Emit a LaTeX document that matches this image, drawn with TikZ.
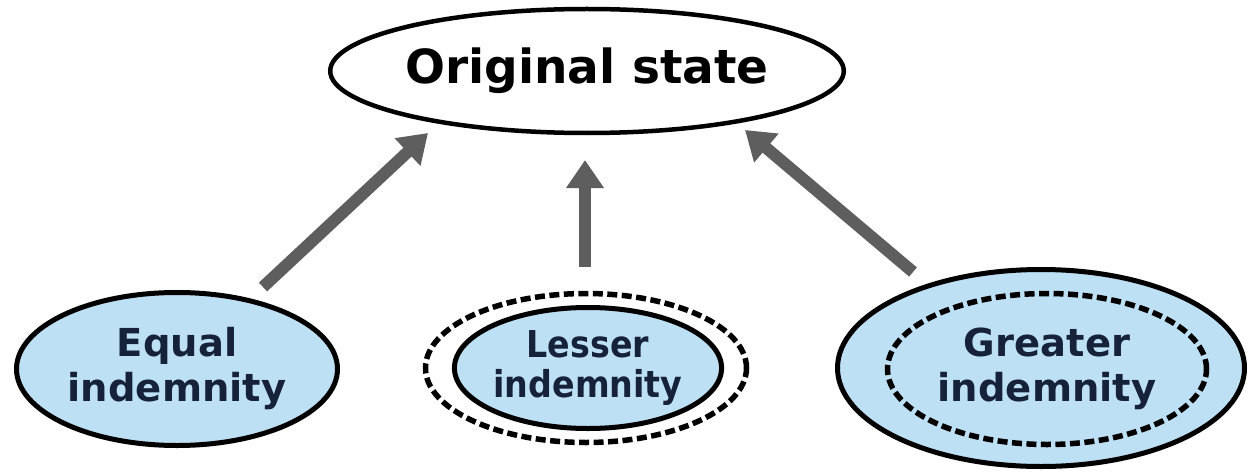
\documentclass[tikz,border=0pt]{standalone}
\usepackage{fontspec}
\setmainfont{DejaVu Sans}
\newfontfamily\heavy{DejaVu Sans}
\newfontfamily\cond{DejaVu Sans Condensed}
\usetikzlibrary{arrows.meta,shapes.geometric}
\definecolor{fillblue}{HTML}{BEE0F4}
\definecolor{navy}{HTML}{15223A}
\definecolor{arrowgray}{HTML}{5E5E5E}
\tikzset{
  oval/.style={ellipse, draw=black, line width=5pt, inner sep=0pt},
  dashedoval/.style={ellipse, draw=black, line width=5.5pt, inner sep=0pt, dash pattern=on 10pt off 4.5pt},
  boldlbl/.style={text=navy, align=center, font=\heavy\bfseries\fontsize{38.5}{45}\selectfont},
  lightlbl/.style={text=navy, align=center, font=\cond\bfseries\fontsize{37}{40}\selectfont},
  bigarrow/.style={draw=arrowgray, line width=12pt, -{Triangle[length=28pt,width=36pt]}, arrowgray}
}
\begin{document}
\begin{tikzpicture}[x=1pt,y=-1pt]
\useasboundingbox (0,0) rectangle (1249,476);
\fill[white] (0,0) rectangle (1249,476);

% top
\node[oval, line width=4.5pt, minimum width=404pt, minimum height=124pt,
      font=\heavy\bfseries\fontsize{47}{50}\selectfont] (orig) at (587,71) {Original state};

% equal
\node[oval, fill=fillblue, minimum width=321pt, minimum height=153pt, boldlbl] (equal) at (177,369) {Equal\\indemnity};

% lesser
\node[dashedoval, minimum width=321pt, minimum height=149pt] (lesserout) at (586,368) {};
\node[oval, fill=fillblue, minimum width=253pt, minimum height=121pt, lightlbl] (lesser) at (588,368) {Lesser\\indemnity};

% greater
\node[oval, fill=fillblue, minimum width=407pt, minimum height=197pt] (greaterout) at (1041,368) {};
\node[dashedoval, minimum width=319pt, minimum height=151pt, boldlbl] (greater) at (1047,369) {Greater\\indemnity};

% arrows
\coordinate (a1s) at (263,287); \coordinate (a1e) at (428,133);
\coordinate (a2s) at (585,267); \coordinate (a2e) at (585,160);
\coordinate (a3s) at (913,272); \coordinate (a3e) at (745,130);
\draw[bigarrow] (a1s) -- (a1e);
\draw[bigarrow] (a2s) -- (a2e);
\draw[bigarrow] (a3s) -- (a3e);
\end{tikzpicture}
\end{document}
